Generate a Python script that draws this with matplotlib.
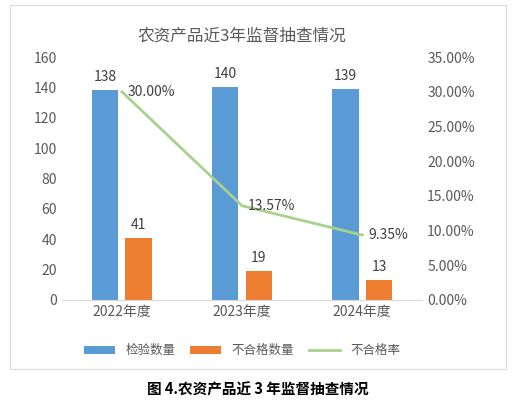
import matplotlib
matplotlib.use('Agg')
import matplotlib.pyplot as plt
import numpy as np
from matplotlib.patches import Rectangle

plt.rcParams['font.family'] = ['Noto Sans CJK SC', 'DejaVu Sans']

years = ['2022年度', '2023年度', '2024年度']
inspected = [138, 140, 139]
failed = [41, 19, 13]
fail_rate = [30.00, 13.57, 9.35]

blue = '#5b9bd5'
orange = '#ed7d31'
green = '#a9d18e'
grey = '#595959'

fig = plt.figure(figsize=(5.15, 4.08), dpi=100)
fig.patches.append(Rectangle((0.02, 0.095), 0.962, 0.893, transform=fig.transFigure,
                             fill=False, edgecolor='#d9d9d9', lw=0.8))
ax = fig.add_axes([0.12, 0.265, 0.70, 0.595])
ax2 = ax.twinx()

x = np.arange(len(years))
w = 0.22
b1 = ax.bar(x - w / 2 - 0.03, inspected, w, color=blue, label='检验数量')
b2 = ax.bar(x + w / 2 + 0.03, failed, w, color=orange, label='不合格数量')
ln, = ax2.plot(x, fail_rate, color=green, lw=2, label='不合格率')

for r, v in zip(b1, inspected):
    ax.text(r.get_x() + r.get_width() / 2, v + 4, str(v), ha='center', va='bottom', fontsize=10, color='#404040')
for r, v in zip(b2, failed):
    ax.text(r.get_x() + r.get_width() / 2, v + 4, str(v), ha='center', va='bottom', fontsize=10, color='#404040')
for xi, v in zip(x, fail_rate):
    ax2.text(xi + 0.05, v, f'{v:.2f}%', ha='left', va='center', fontsize=10, color='#404040')

ax.set_xlim(-0.5, 2.5)
ax.set_ylim(0, 160)
ax.set_yticks(range(0, 161, 20))
ax2.set_ylim(0, 35)
ax2.set_yticks(range(0, 36, 5))
ax2.set_yticklabels([f'{t:.2f}%' for t in range(0, 36, 5)])
ax.set_xticks(x)
ax.set_xticklabels(years)
for a in (ax, ax2):
    for s in a.spines.values():
        s.set_visible(False)
    a.tick_params(length=0, labelsize=10, colors=grey)
ax.spines['bottom'].set_visible(True)
ax.spines['bottom'].set_color('#d9d9d9')

ax.set_title('农资产品近3年监督抽查情况', fontsize=12, color=grey, pad=12)
fig.legend(handles=[b1, b2, ln], loc='center', bbox_to_anchor=(0.47, 0.14), ncol=3,
           frameon=False, fontsize=9, handlelength=2.5, columnspacing=1.2,
           labelcolor=grey)
fig.text(0.5, 0.045, '图 4.农资产品近 3 年监督抽查情况', ha='center', va='center',
         fontsize=10.5, fontweight='bold', family=['Noto Sans CJK SC', 'DejaVu Sans'])

fig.savefig('out.png')
